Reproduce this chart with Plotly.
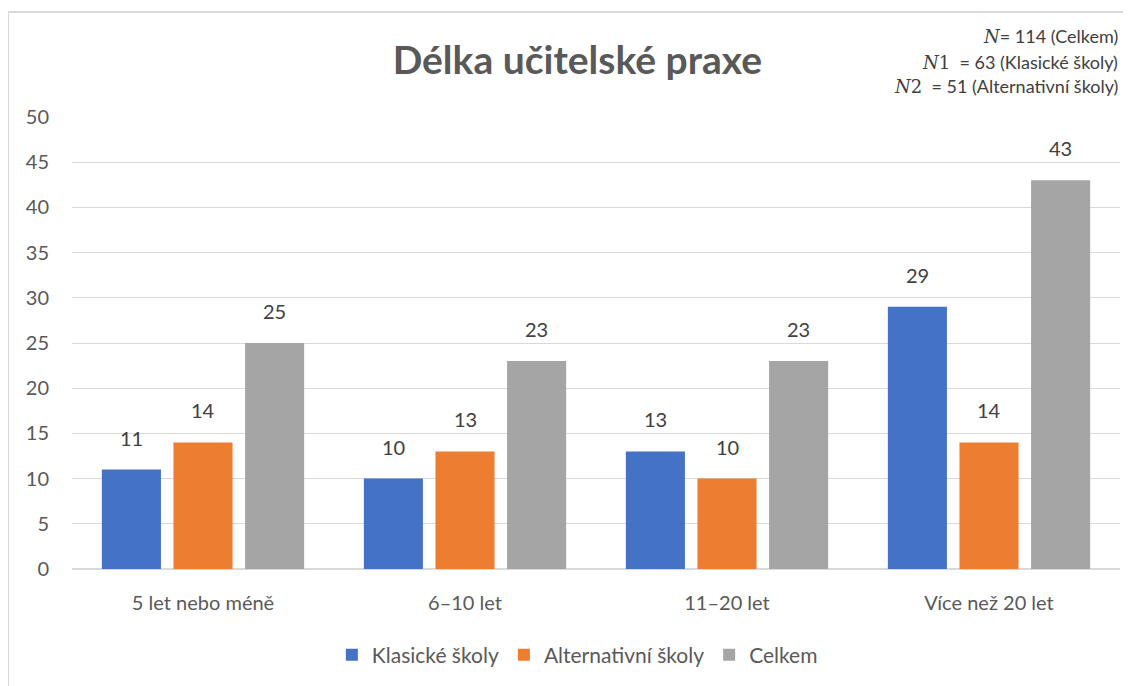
import plotly.graph_objects as go

categories = ["5 let nebo méně", "6–10 let", "11–20 let", "Více než 20 let"]
series_names = ["Klasické školy", "Alternativní školy", "Celkem"]
klasicke = [11, 10, 13, 29]
alternativni = [14, 13, 10, 14]
celkem = [25, 23, 23, 43]
y_ticks = [0, 5, 10, 15, 20, 25, 30, 35, 40, 45, 50]

colors = ["#4472C4", "#ED7D31", "#A5A5A5"]
values = [klasicke, alternativni, celkem]

FONT = "Lato, 'Open Sans', sans-serif"
# page has an 8px body margin, so the figure is sized to fit the window
W, H = 1123, 678
ML, MR, MT, MB = 64, 11, 109, 117

fig = go.Figure()
for name, vals, col in zip(series_names, values, colors):
    fig.add_trace(go.Bar(
        x=categories, y=vals, name=name,
        marker=dict(color=col, line=dict(width=0)),
    ))

plot_w = W - ML - MR
bargap = 0.18
slot = plot_w / len(categories) * (1 - bargap) / 3
annotations = []
for i, vals in enumerate(values):
    for c, v in zip(categories, vals):
        annotations.append(dict(
            x=c, y=v, xref="x", yref="y", text=str(v), showarrow=False,
            xshift=(i - 1) * slot, yanchor="bottom", yshift=18,
            font=dict(family=FONT, size=20, color="#404040"),
        ))

mf = "font-family:'DejaVu Serif'"
notes = [
    (f"<span style=\"{mf}\"><i>N</i></span>= 114 (Celkem)", 81),
    (f"<span style=\"{mf}\"><i>N</i>1</span>  = 63 (Klasické školy)", 55),
    (f"<span style=\"{mf}\"><i>N</i>2</span>  = 51 (Alternativní školy)", 31),
]
for txt, ys in notes:
    annotations.append(dict(
        x=1, y=1, xref="paper", yref="paper", text=txt, showarrow=False,
        xanchor="right", yanchor="middle", yshift=ys,
        font=dict(family=FONT, size=18, color="#404040"),
    ))

fig.update_layout(
    width=W, height=H,
    margin=dict(l=ML, r=MR, t=MT, b=MB, autoexpand=False),
    paper_bgcolor="white", plot_bgcolor="white",
    barmode="group", bargap=bargap, bargroupgap=0.175,
    title=dict(text="<b>Délka učitelské praxe</b>", x=0.507, xanchor="center",
               y=1 - 52 / H, yanchor="middle", yref="container",
               font=dict(family=FONT, size=39, color="#595959")),
    font=dict(family=FONT, size=18, color="#595959"),
    xaxis=dict(showgrid=False, ticks="", showline=True, linecolor="#d9d9d9",
               linewidth=1, ticklabelstandoff=16,
               tickfont=dict(size=20, color="#595959")),
    yaxis=dict(range=[0, 50], tickvals=y_ticks, showgrid=True, gridcolor="#d9d9d9",
               gridwidth=1, zeroline=True, zerolinecolor="#d9d9d9", ticks="",
               ticklabelstandoff=22, tickfont=dict(size=20, color="#595959")),
    legend=dict(orientation="h", xref="container", x=0.507, xanchor="center",
                yref="container", y=1 - 647 / H, yanchor="middle",
                font=dict(size=21, color="#595959"), itemwidth=30,
                traceorder="normal"),
    annotations=annotations,
    shapes=[dict(type="rect", xref="paper", yref="paper", xsizemode="pixel",
                 ysizemode="pixel", xanchor=0, yanchor=1, x0=-64, x1=plot_w + 40,
                 y0=-600, y1=105, line=dict(color="#d9d9d9", width=2),
                 fillcolor="rgba(0,0,0,0)", layer="below")],
)

fig.write_html("out.html")
